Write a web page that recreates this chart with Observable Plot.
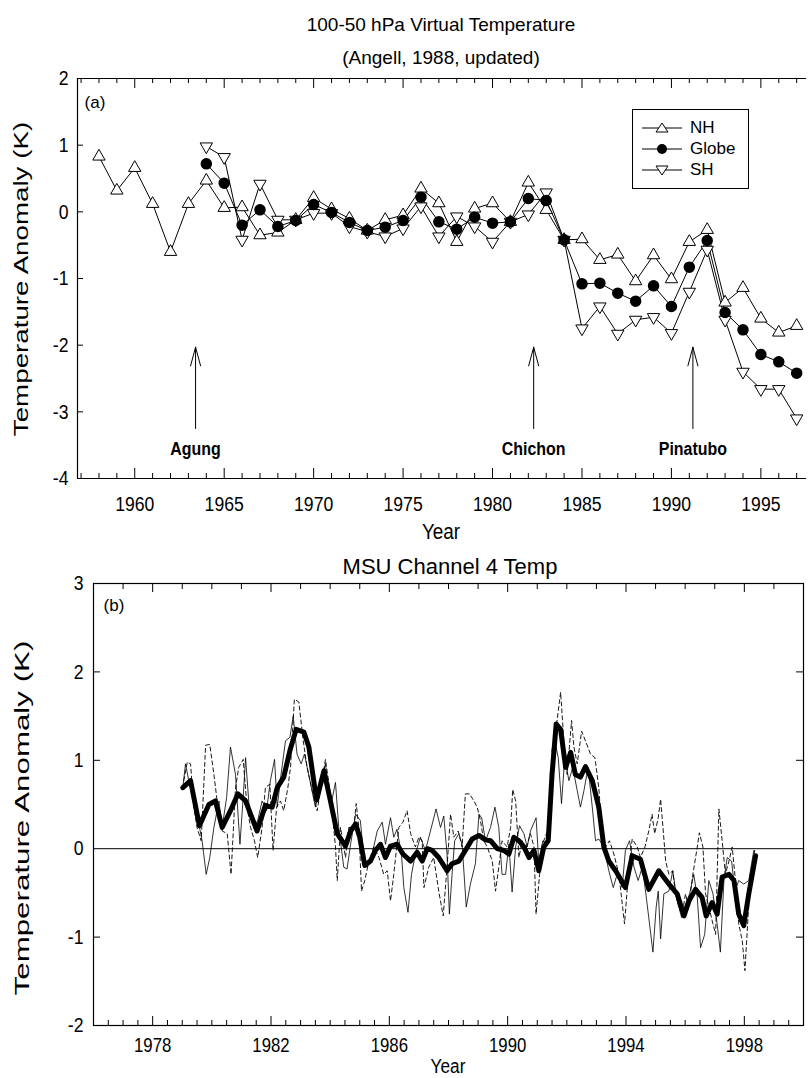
<!DOCTYPE html>
<html><head><meta charset="utf-8">
<script src="https://cdn.jsdelivr.net/npm/d3@7"></script>
<script src="https://cdn.jsdelivr.net/npm/@observablehq/plot@0.6"></script>
<style>
body{margin:0;background:#fff;}
#root{position:relative;width:811px;height:1078px;font-family:"Liberation Sans",Arial,Helvetica,sans-serif;color:#000;overflow:hidden;background:#fff}
.panel{position:absolute;left:0}
.t{position:absolute;white-space:nowrap;transform:translate(-50%,-50%);line-height:1}
.legend{position:absolute;border:1px solid #000;background:#fff;box-sizing:border-box}
.row{position:absolute;left:0;height:20px;display:flex;align-items:center;font-size:17px}
</style></head><body><div id="root"></div>
<script>
// ---------- Panel (a): 100-50 hPa virtual temperature (Angell) ----------
const nhYears = [1958,1959,1960,1961,1962,1963,1964,1965,1966,1967,1968,1969,1970,1971,1972,1973,1974,1975,1976,1977,1978,1979,1980,1981,1982,1983,1984,1985,1986,1987,1988,1989,1990,1991,1992,1993,1994,1995,1996,1997];
const nhValues = [0.83,0.32,0.66,0.12,-0.60,0.12,0.47,0.06,0.07,-0.35,-0.31,-0.12,0.21,0.04,-0.10,-0.28,-0.12,-0.05,0.35,0.13,-0.45,0.05,0.13,-0.15,0.44,0.03,-0.42,-0.41,-0.72,-0.64,-1.04,-0.65,-1.01,-0.45,-0.27,-1.36,-1.14,-1.60,-1.81,-1.71];
const gsYears = [1964,1965,1966,1967,1968,1969,1970,1971,1972,1973,1974,1975,1976,1977,1978,1979,1980,1981,1982,1983,1984,1985,1986,1987,1988,1989,1990,1991,1992,1993,1994,1995,1996,1997];
const globeValues = [0.72,0.43,-0.20,0.03,-0.22,-0.13,0.11,-0.01,-0.16,-0.28,-0.23,-0.13,0.22,-0.15,-0.26,-0.08,-0.17,-0.15,0.20,0.17,-0.42,-1.08,-1.07,-1.22,-1.34,-1.11,-1.42,-0.83,-0.43,-1.51,-1.77,-2.14,-2.25,-2.42];
const shValues = [0.98,0.82,-0.42,0.42,-0.12,-0.12,-0.02,-0.02,-0.22,-0.30,-0.37,-0.25,0.08,-0.37,-0.07,-0.22,-0.45,-0.15,-0.04,0.29,-0.42,-1.75,-1.42,-1.83,-1.62,-1.58,-1.82,-1.20,-0.57,-1.62,-2.40,-2.66,-2.66,-3.10];
const volcanoNames = ["Agung","Chichon","Pinatubo"];
const volcanoYears = [1963.4,1982.3,1991.2];
const aXTickLabels = [1960,1965,1970,1975,1980,1985,1990,1995];
const aYTickLabels = [2,1,0,-1,-2,-3,-4];
const aXDomain = [1956.8,1997.55];
const aYDomain = [-4,2];

// ---------- Panel (b): MSU channel 4 ----------
const msuThick = [[1979.02,0.69],[1979.28,0.77],[1979.58,0.26],[1979.90,0.50],[1980.12,0.54],[1980.35,0.24],[1980.63,0.43],[1980.88,0.62],[1981.14,0.54],[1981.31,0.39],[1981.53,0.20],[1981.81,0.49],[1982.04,0.47],[1982.21,0.69],[1982.43,0.81],[1982.64,1.11],[1982.85,1.35],[1983.11,1.32],[1983.28,1.15],[1983.54,0.55],[1983.79,0.88],[1984.01,0.54],[1984.24,0.17],[1984.52,0.03],[1984.69,0.20],[1984.86,0.28],[1985.00,0.13],[1985.17,-0.19],[1985.36,-0.14],[1985.53,-0.02],[1985.70,0.05],[1985.87,-0.10],[1986.04,0.03],[1986.26,0.05],[1986.46,-0.06],[1986.72,-0.14],[1986.94,-0.04],[1987.11,-0.14],[1987.28,0.00],[1987.45,-0.02],[1987.67,-0.10],[1987.95,-0.25],[1988.12,-0.17],[1988.35,-0.14],[1988.57,-0.02],[1988.80,0.11],[1989.03,0.15],[1989.25,0.10],[1989.42,0.09],[1989.65,0.00],[1989.87,-0.02],[1990.04,-0.06],[1990.21,0.13],[1990.38,0.09],[1990.55,0.02],[1990.72,-0.10],[1990.89,-0.02],[1991.05,-0.25],[1991.22,0.02],[1991.37,0.09],[1991.50,0.84],[1991.64,1.41],[1991.79,1.35],[1991.96,0.92],[1992.13,1.09],[1992.29,0.84],[1992.46,0.81],[1992.63,0.93],[1992.86,0.77],[1993.08,0.47],[1993.25,0.02],[1993.42,-0.14],[1993.65,-0.25],[1993.98,-0.44],[1994.21,-0.08],[1994.49,-0.12],[1994.77,-0.46],[1995.11,-0.25],[1995.45,-0.40],[1995.73,-0.51],[1995.96,-0.76],[1996.13,-0.59],[1996.35,-0.46],[1996.57,-0.55],[1996.71,-0.76],[1996.91,-0.61],[1997.08,-0.74],[1997.25,-0.32],[1997.48,-0.29],[1997.65,-0.36],[1997.81,-0.74],[1997.98,-0.87],[1998.15,-0.51],[1998.38,-0.08]];
const msuThin = [[1979.02,0.69],[1979.11,0.96],[1979.22,0.77],[1979.50,0.39],[1979.67,0.09],[1979.81,-0.29],[1979.93,-0.10],[1980.07,0.24],[1980.24,0.54],[1980.35,0.24],[1980.50,0.58],[1980.63,1.15],[1980.80,0.84],[1980.95,0.05],[1981.06,0.58],[1981.14,1.03],[1981.28,0.39],[1981.42,0.24],[1981.55,0.32],[1981.70,0.54],[1981.85,0.43],[1981.98,0.77],[1982.12,1.01],[1982.21,0.47],[1982.34,0.84],[1982.49,1.22],[1982.64,1.26],[1982.75,1.50],[1982.88,1.07],[1983.02,0.96],[1983.13,1.07],[1983.34,0.73],[1983.50,0.47],[1983.84,0.96],[1984.01,0.47],[1984.18,0.75],[1984.29,0.24],[1984.46,-0.21],[1984.57,-0.23],[1984.69,0.05],[1984.86,0.39],[1985.02,0.32],[1985.14,-0.10],[1985.25,-0.21],[1985.42,-0.06],[1985.59,0.20],[1985.76,0.30],[1985.87,0.05],[1986.04,0.35],[1986.15,0.13],[1986.26,0.22],[1986.41,-0.06],[1986.49,-0.44],[1986.63,-0.72],[1986.75,-0.29],[1986.88,-0.06],[1987.05,0.13],[1987.22,-0.02],[1987.39,0.20],[1987.58,0.45],[1987.73,0.24],[1987.84,0.37],[1987.95,-0.06],[1988.03,-0.74],[1988.12,-0.29],[1988.21,0.09],[1988.35,0.17],[1988.46,0.05],[1988.60,-0.66],[1988.74,-0.40],[1988.91,-0.17],[1989.03,0.39],[1989.12,0.35],[1989.25,0.09],[1989.42,0.24],[1989.57,0.47],[1989.70,0.24],[1989.81,-0.29],[1989.93,-0.29],[1990.04,0.05],[1990.15,-0.49],[1990.27,0.02],[1990.40,0.26],[1990.55,0.17],[1990.66,0.02],[1990.77,0.20],[1990.96,0.35],[1991.05,-0.14],[1991.19,0.09],[1991.34,0.05],[1991.48,0.69],[1991.59,1.22],[1991.71,1.03],[1991.82,0.51],[1991.93,1.03],[1992.07,0.77],[1992.20,0.92],[1992.35,0.66],[1992.46,0.47],[1992.58,0.66],[1992.72,0.92],[1992.86,0.47],[1992.97,0.09],[1993.08,0.11],[1993.25,0.02],[1993.42,-0.25],[1993.57,-0.44],[1993.70,-0.29],[1993.87,-0.44],[1993.98,-0.02],[1994.12,0.09],[1994.27,-0.21],[1994.41,-0.36],[1994.55,-0.21],[1994.66,-0.48],[1994.77,-0.78],[1994.91,-1.17],[1995.02,-0.66],[1995.09,-0.48],[1995.17,-1.02],[1995.28,-0.51],[1995.45,-0.48],[1995.58,-0.25],[1995.73,-0.59],[1995.88,-0.78],[1996.01,-0.63],[1996.15,-0.51],[1996.29,-0.29],[1996.41,-0.55],[1996.52,-1.12],[1996.66,-0.97],[1996.80,-0.36],[1996.94,-0.51],[1997.08,-0.85],[1997.19,-1.17],[1997.31,-0.36],[1997.42,-0.10],[1997.57,-0.14],[1997.68,-0.48],[1997.81,-0.36],[1997.98,-0.40],[1998.15,-0.36],[1998.32,-0.02]];
const msuDashed = [[1979.05,0.77],[1979.17,0.98],[1979.28,0.96],[1979.39,0.47],[1979.50,0.24],[1979.64,0.09],[1979.79,1.17],[1979.93,1.18],[1980.07,0.84],[1980.18,0.54],[1980.35,0.20],[1980.52,0.17],[1980.65,-0.29],[1980.80,0.69],[1980.91,0.92],[1981.06,1.01],[1981.19,0.47],[1981.31,0.24],[1981.44,0.09],[1981.55,-0.10],[1981.70,0.24],[1981.81,0.69],[1981.96,0.73],[1982.07,-0.02],[1982.19,0.47],[1982.32,0.54],[1982.43,0.43],[1982.57,0.69],[1982.66,0.92],[1982.79,1.69],[1982.94,1.66],[1983.09,1.22],[1983.22,0.92],[1983.39,0.66],[1983.56,0.43],[1983.84,1.01],[1984.01,0.62],[1984.18,0.02],[1984.24,-0.36],[1984.35,0.24],[1984.52,-0.10],[1984.63,0.24],[1984.80,0.24],[1984.88,0.51],[1984.97,0.24],[1985.06,-0.48],[1985.17,-0.36],[1985.31,-0.14],[1985.48,0.02],[1985.65,-0.10],[1985.81,-0.29],[1985.93,-0.25],[1986.04,-0.59],[1986.15,-0.29],[1986.32,0.24],[1986.46,0.30],[1986.60,0.43],[1986.72,0.17],[1986.88,0.02],[1987.00,0.13],[1987.11,0.09],[1987.17,-0.44],[1987.33,-0.21],[1987.50,-0.10],[1987.67,-0.48],[1987.82,-0.76],[1987.95,-0.21],[1988.07,0.39],[1988.18,0.13],[1988.33,0.20],[1988.46,0.02],[1988.57,0.62],[1988.71,0.62],[1988.86,0.54],[1988.97,0.47],[1989.08,0.32],[1989.19,0.09],[1989.31,0.02],[1989.48,-0.14],[1989.59,-0.48],[1989.70,-0.21],[1989.81,0.09],[1989.98,0.02],[1990.10,0.24],[1990.17,0.67],[1990.27,0.54],[1990.38,-0.10],[1990.49,0.09],[1990.60,-0.02],[1990.77,0.17],[1990.89,0.02],[1990.96,-0.74],[1991.08,-0.29],[1991.22,0.09],[1991.39,0.24],[1991.50,1.11],[1991.64,1.37],[1991.79,1.77],[1991.90,1.22],[1992.01,0.84],[1992.16,1.45],[1992.24,1.15],[1992.35,0.96],[1992.50,1.33],[1992.63,1.22],[1992.80,1.07],[1992.95,1.03],[1993.08,0.69],[1993.19,0.17],[1993.31,0.02],[1993.44,0.09],[1993.59,-0.06],[1993.76,-0.29],[1993.95,-0.85],[1994.10,-0.21],[1994.21,0.11],[1994.38,0.02],[1994.49,-0.10],[1994.64,0.02],[1994.77,0.20],[1994.88,0.39],[1994.97,0.17],[1995.09,0.35],[1995.17,0.56],[1995.25,0.24],[1995.34,-0.14],[1995.45,-0.29],[1995.58,-0.25],[1995.67,-0.51],[1995.79,-0.66],[1995.90,-0.74],[1996.01,-0.51],[1996.12,-0.66],[1996.26,-0.29],[1996.41,0.02],[1996.48,0.18],[1996.60,0.02],[1996.69,-0.51],[1996.80,-0.66],[1996.91,-0.81],[1997.03,-0.97],[1997.14,0.45],[1997.25,0.09],[1997.36,-0.29],[1997.48,-0.14],[1997.59,0.02],[1997.70,-0.36],[1997.81,-0.85],[1997.93,-1.04],[1998.02,-1.38],[1998.13,-0.74],[1998.24,-0.25],[1998.35,-0.02]];
const bXTickLabels = [1978,1982,1986,1990,1994,1998];
const bYTickLabels = [3,2,1,0,-1,-2];
const bXDomain = [1976,2000];
const bYDomain = [-2,3];

// ---------- build ----------
const root = document.getElementById("root");
const FONT = "'Liberation Sans', Arial, Helvetica, sans-serif";
const nh = nhYears.map((y,i)=>({year:y, v:nhValues[i]}));
const globe = gsYears.map((y,i)=>({year:y, v:globeValues[i]}));
const sh = gsYears.map((y,i)=>({year:y, v:shValues[i]}));
const volc = volcanoYears.map((y,i)=>({year:y, name:volcanoNames[i]}));
const range = (a,b,s)=>d3.range(a,b+1e-9,s);

// condense SVG texts horizontally (the original uses a narrow face)
function narrowTexts(svg, sx){
  d3.select(svg).selectAll("g[aria-label='text'] text").each(function(){
    const t = this.getAttribute("transform") || "";
    this.setAttribute("transform", t + " scale(" + sx + ",1)");
  });
}

// Panel A geometry (pixels)
const A = {W:811, H:545, mt:78, mb:67, ml:77, mr:5};
const aPy = (aYDomain[1]-aYDomain[0])/(A.H-A.mt-A.mb);
const aYears = range(1957,1997,1);
const plotA = Plot.plot({
  width:A.W, height:A.H, marginTop:A.mt, marginBottom:A.mb, marginLeft:A.ml, marginRight:A.mr,
  style:{fontFamily:FONT, fontSize:"21px", background:"transparent", overflow:"visible"},
  x:{domain:aXDomain, axis:null},
  y:{domain:aYDomain, axis:null},
  marks:[
    Plot.ruleX([aXDomain[0]], {stroke:"black", strokeWidth:1.2}),
    Plot.ruleY([aYDomain[0], aYDomain[1]], {stroke:"black", strokeWidth:1.2}),
    Plot.ruleX(aYears, {x:d=>d, y1:aYDomain[0], y2:d=>aYDomain[0]+(d%5===0?10:5)*aPy, stroke:"black"}),
    Plot.ruleX(aYears, {x:d=>d, y1:aYDomain[1], y2:d=>aYDomain[1]-(d%5===0?10:5)*aPy, stroke:"black"}),
    Plot.ruleY(aYTickLabels.slice(1,-1), {y:d=>d, x1:aXDomain[0], x2:aXDomain[0]+6*(aXDomain[1]-aXDomain[0])/(A.W-A.ml-A.mr), stroke:"black"}),
    Plot.text(aXTickLabels, {x:d=>d, y:aYDomain[0], dy:26, text:d=>String(d), fontSize:21}),
    Plot.text(aYTickLabels, {x:aXDomain[0], y:d=>d, dx:-9, text:d=>String(d), textAnchor:"end", fontSize:21}),
    Plot.arrow(volc, {x1:"year", x2:"year", y1:-3.25, y2:-2.03, stroke:"black", strokeWidth:1, headAngle:30, headLength:29}),
    Plot.text(volc, {x:"year", y:-3.56, text:"name", fontWeight:"bold", fontSize:19}),
    Plot.line(nh, {x:"year", y:"v", stroke:"black", strokeWidth:1}),
    Plot.line(sh, {x:"year", y:"v", stroke:"black", strokeWidth:1}),
    Plot.line(globe, {x:"year", y:"v", stroke:"black", strokeWidth:1}),
    Plot.dot(nh, {x:"year", y:"v", symbol:"triangle", r:4.6, fill:"white", stroke:"black", strokeWidth:1}),
    Plot.dot(sh, {x:"year", y:"v", symbol:"triangle", rotate:180, r:4.6, fill:"white", stroke:"black", strokeWidth:1}),
    Plot.dot(globe, {x:"year", y:"v", r:5, fill:"black", stroke:"black"})
  ]
});
narrowTexts(plotA, 0.84);
plotA.classList.add("panel"); plotA.style.top="0px";
root.appendChild(plotA);

// Panel B geometry
const B = {top:545, W:811, H:533, mt:38, mb:53, ml:93, mr:8};
const bPy = (bYDomain[1]-bYDomain[0])/(B.H-B.mt-B.mb);
const bPx = (bXDomain[1]-bXDomain[0])/(B.W-B.ml-B.mr);
const bTop = range(1976,2000,1);
const bBottom = range(1976,2000,0.5);
const bYIn = [2,1,-1];
const plotB = Plot.plot({
  width:B.W, height:B.H, marginTop:B.mt, marginBottom:B.mb, marginLeft:B.ml, marginRight:B.mr,
  style:{fontFamily:FONT, fontSize:"21px", background:"transparent", overflow:"visible"},
  x:{domain:bXDomain, axis:null},
  y:{domain:bYDomain, axis:null},
  marks:[
    Plot.frame({stroke:"black", strokeWidth:1.2}),
    Plot.ruleY([0], {stroke:"black", strokeWidth:1}),
    Plot.ruleX(bTop, {x:d=>d, y1:bYDomain[1], y2:d=>bYDomain[1]-(bXTickLabels.includes(d)?9:6)*bPy, stroke:"black"}),
    Plot.ruleX(bBottom, {x:d=>d, y1:bYDomain[0], y2:d=>bYDomain[0]+(bXTickLabels.includes(d)?9:5)*bPy, stroke:"black"}),
    Plot.ruleY(bYIn, {y:d=>d, x1:bXDomain[0], x2:bXDomain[0]+7*bPx, stroke:"black"}),
    Plot.ruleY(bYIn, {y:d=>d, x1:bXDomain[1], x2:bXDomain[1]-7*bPx, stroke:"black"}),
    Plot.text(bXTickLabels, {x:d=>d, y:bYDomain[0], dy:20, text:d=>String(d), fontSize:20}),
    Plot.text(bYTickLabels, {x:bXDomain[0], y:d=>d, dx:-10, text:d=>String(d), textAnchor:"end", fontSize:21}),
    Plot.line(msuDashed, {x:d=>d[0], y:d=>d[1], stroke:"black", strokeWidth:0.9, strokeDasharray:"4,3"}),
    Plot.line(msuThin, {x:d=>d[0], y:d=>d[1], stroke:"black", strokeWidth:0.8}),
    Plot.line(msuThick, {x:d=>d[0], y:d=>d[1], stroke:"black", strokeWidth:5, strokeLinejoin:"round", strokeLinecap:"round"})
  ]
});
narrowTexts(plotB, 0.84);
plotB.classList.add("panel"); plotB.style.top=B.top+"px";
root.appendChild(plotB);

// ---------- titles, axis labels, legend (real text) ----------
function label(txt, x, y, css){
  const d = document.createElement("div");
  d.className="t"; d.textContent=txt;
  d.style.left=x+"px"; d.style.top=y+"px";
  Object.assign(d.style, css||{});
  root.appendChild(d); return d;
}
label("100-50 hPa Virtual Temperature", 441, 24, {fontSize:"19px"});
label("(Angell, 1988, updated)", 441, 57, {fontSize:"19px"});
label("Year", 441, 532, {fontSize:"22px", transform:"translate(-50%,-50%) scaleX(0.86)"});
label("Temperature Anomaly (K)", 20, 279, {fontSize:"21px", transform:"translate(-50%,-50%) rotate(-90deg) scaleX(1.32)"});
label("(a)", 95, 102, {fontSize:"17px"});
label("MSU Channel 4 Temp", 450, 567, {fontSize:"22px"});
label("Year", 448, 1066, {fontSize:"20px", transform:"translate(-50%,-50%) scaleX(0.86)"});
label("Temperature Anomaly (K)", 21, 818, {fontSize:"21px", transform:"translate(-50%,-50%) rotate(-90deg) scaleX(1.49)"});
label("(b)", 114, 605, {fontSize:"17px"});

// legend
const leg = document.createElement("div");
leg.className="legend";
Object.assign(leg.style,{left:"632px", top:"109px", width:"117px", height:"80px"});
const legItems = [["NH","up"],["Globe","dot"],["SH","down"]];
legItems.forEach(([name,sym],i)=>{
  const r = document.createElement("div"); r.className="row";
  r.style.top=(8+i*21)+"px";
  const ns="http://www.w3.org/2000/svg";
  const s = document.createElementNS(ns,"svg");
  s.setAttribute("width","52"); s.setAttribute("height","20");
  const ln = document.createElementNS(ns,"line");
  ln.setAttribute("x1","9"); ln.setAttribute("x2","49"); ln.setAttribute("y1","10"); ln.setAttribute("y2","10");
  ln.setAttribute("stroke","black"); s.appendChild(ln);
  let m;
  if(sym==="dot"){ m=document.createElementNS(ns,"circle"); m.setAttribute("cx","29"); m.setAttribute("cy","10"); m.setAttribute("r","5"); m.setAttribute("fill","black"); }
  else { m=document.createElementNS(ns,"path");
    const p = sym==="up" ? "M29,5 L35,14 L23,14 Z" : "M29,15 L35,6 L23,6 Z";
    m.setAttribute("d",p); m.setAttribute("fill","white"); m.setAttribute("stroke","black"); }
  s.appendChild(m); r.appendChild(s);
  const tx=document.createElement("span"); tx.textContent=name; tx.style.marginLeft="5px"; r.appendChild(tx);
  leg.appendChild(r);
});
root.appendChild(leg);
</script></body></html>
